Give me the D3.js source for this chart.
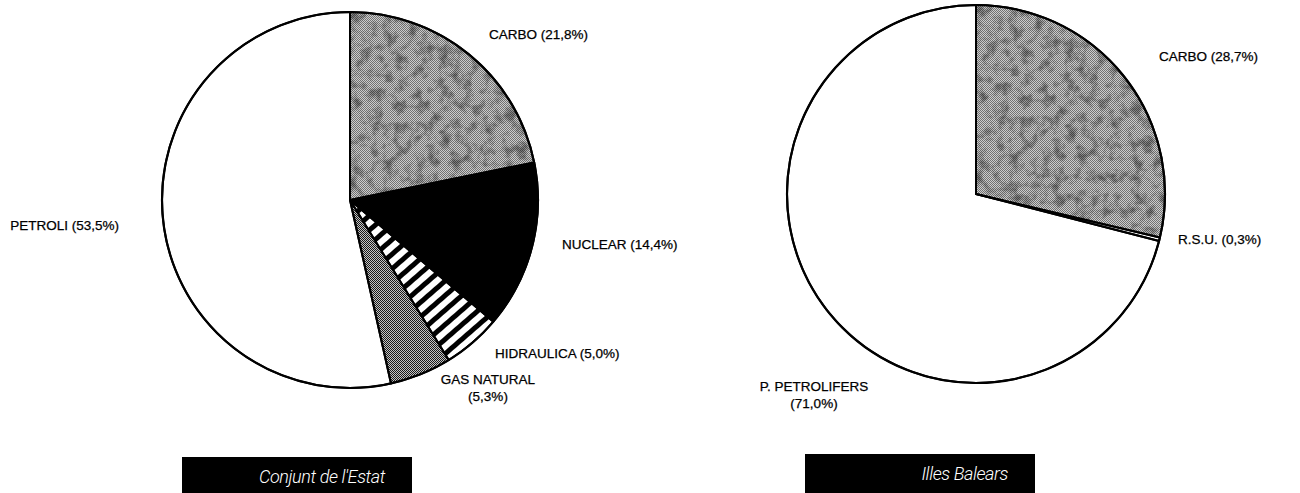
<!DOCTYPE html>
<html>
<head>
<meta charset="utf-8">
<script src="https://cdn.jsdelivr.net/npm/d3@7"></script>
<style>
  body { margin: 0; background: #fff; }
  svg { display: block; }
</style>
</head>
<body>
<div id="chart"></div>
<script>
// data
const estatLabels = ["CARBO", "NUCLEAR", "HIDRAULICA", "GAS NATURAL", "PETROLI"];
const estatValues = [21.8, 14.4, 5.0, 5.3, 53.5];
const balearsLabels = ["CARBO", "R.S.U.", "P. PETROLIFERS"];
const balearsValues = [28.7, 0.3, 71.0];
const titles = ["Conjunt de l'Estat", "Illes Balears"];

const width = 1300, height = 493;

const svg = d3.select("#chart")
    .append("svg")
        .attr("width", width)
        .attr("height", height);

const defs = svg.append("defs");

// checker dither used for the grey fills
const checker = (id, dark, light) => {
    const p = defs.append("pattern")
        .attr("id", id)
        .attr("width", 2)
        .attr("height", 2)
        .attr("patternUnits", "userSpaceOnUse");
    p.append("rect").attr("width", 2).attr("height", 2).attr("fill", light);
    p.append("rect").attr("width", 1).attr("height", 1).attr("fill", dark);
    p.append("rect").attr("x", 1).attr("y", 1).attr("width", 1).attr("height", 1).attr("fill", dark);
};
checker("carbo", "#727272", "#cdcdcd");
checker("gas", "#1a1a1a", "#c4c4c4");

// stripes for hidraulica, run across the wedge
const stripes = defs.append("pattern")
    .attr("id", "hidraulica")
    .attr("width", 11)
    .attr("height", 11)
    .attr("patternUnits", "userSpaceOnUse")
    .attr("patternTransform", "rotate(-41)");
stripes.append("rect").attr("width", 11).attr("height", 11).attr("fill", "#fff");
stripes.append("rect").attr("width", 11).attr("height", 5).attr("fill", "#000");

// mottled look on the coal slices
const mottle = defs.append("filter")
    .attr("id", "mottle")
    .attr("x", 0).attr("y", 0).attr("width", 1).attr("height", 1);
mottle.append("feTurbulence")
    .attr("type", "fractalNoise")
    .attr("baseFrequency", 0.09)
    .attr("numOctaves", 4)
    .attr("seed", 7)
    .attr("result", "noise");
mottle.append("feColorMatrix")
    .attr("in", "noise")
    .attr("type", "matrix")
    .attr("values", "0 0 0 0 0  0 0 0 0 0  0 0 0 0 0  0 0 0 -2.6 1.45")
    .attr("result", "spots");
mottle.append("feComposite")
    .attr("in", "spots")
    .attr("in2", "SourceGraphic")
    .attr("operator", "in");

const fills = {
    "CARBO": "url(#carbo)",
    "NUCLEAR": "#000",
    "HIDRAULICA": "url(#hidraulica)",
    "GAS NATURAL": "url(#gas)",
    "PETROLI": "#fff",
    "R.S.U.": "#fff",
    "P. PETROLIFERS": "#fff"
};

const fmt = v => v.toFixed(1).replace(".", ",") + "%";

// label placement, relative to each pie centre: [x, y, anchor, two lines]
const estatLabelPos = [
    [139, -161, "start", false],
    [212, 49, "start", false],
    [145, 158, "start", false],
    [138, 184, "middle", true],
    [-231, 30, "end", false]
];
const balearsLabelPos = [
    [183, -133, "start", false],
    [202, 50, "start", false],
    [-162, 197, "middle", true]
];

let clipCount = 0;

const drawPie = (labels, values, labelPos, cx, cy, radius, title, box) => {
    const data = labels.map((label, i) => ({ label, value: values[i] }));

    const pie = d3.pie()
        .sort(null)
        .value(d => d.value);

    const arc = d3.arc()
        .innerRadius(0)
        .outerRadius(radius);

    const g = svg.append("g")
        .attr("transform", `translate(${cx},${cy})`);

    const arcs = pie(data);

    g.selectAll("path.slice")
        .data(arcs)
        .enter().append("path")
        .attr("class", "slice")
        .attr("d", arc)
        .attr("fill", d => fills[d.data.label]);

    // noise overlay, clipped to the coal slice
    arcs.filter(d => d.data.label === "CARBO").forEach(d => {
        const id = "clip" + (clipCount++);
        defs.append("clipPath")
            .attr("id", id)
            .append("path")
            .attr("d", arc(d));
        g.append("g")
            .attr("clip-path", `url(#${id})`)
            .append("path")
            .attr("d", arc(d))
            .attr("fill", "#333")
            .attr("opacity", 0.42)
            .attr("filter", "url(#mottle)");
    });

    // outlines on top of the overlay
    g.selectAll("path.edge")
        .data(arcs)
        .enter().append("path")
        .attr("class", "edge")
        .attr("d", arc)
        .attr("fill", "none")
        .attr("stroke", "#000")
        .attr("stroke-width", 2)
        .attr("stroke-linejoin", "round");

    g.append("circle")
        .attr("r", radius)
        .attr("fill", "none")
        .attr("stroke", "#000")
        .attr("stroke-width", 2.2);

    const text = g.selectAll("text.label")
        .data(data)
        .enter().append("text")
        .attr("class", "label")
        .attr("x", (d, i) => labelPos[i][0])
        .attr("y", (d, i) => labelPos[i][1])
        .attr("text-anchor", (d, i) => labelPos[i][2])
        .style("font-family", "'Liberation Sans', Arial, sans-serif")
        .style("font-size", "13.5px")
        .style("fill", "#000")
        .style("stroke", "#000")
        .style("stroke-width", 0.25);

    text.each(function(d, i) {
        const t = d3.select(this);
        if (labelPos[i][3]) {
            t.append("tspan").text(d.label);
            t.append("tspan")
                .attr("x", labelPos[i][0])
                .attr("dy", 17)
                .text(`(${fmt(d.value)})`);
        } else {
            t.text(`${d.label} (${fmt(d.value)})`);
        }
    });

    // title bar underneath
    svg.append("rect")
        .attr("x", box[0])
        .attr("y", box[1])
        .attr("width", box[2])
        .attr("height", height - box[1])
        .attr("fill", "#000");

    svg.append("text")
        .attr("x", box[0] + box[2] - 27)
        .attr("y", box[1] + 26)
        .attr("text-anchor", "end")
        .style("font-family", "Roboto, 'Liberation Sans', sans-serif")
        .style("font-weight", 300)
        .style("font-style", "italic")
        .style("font-size", "18px")
        .style("letter-spacing", "-0.4px")
        .style("fill", "#fff")
        .text(title);
};

drawPie(estatLabels, estatValues, estatLabelPos, 350, 200, 188, titles[0], [182, 457, 230]);
drawPie(balearsLabels, balearsValues, balearsLabelPos, 976, 194, 189, titles[1], [805, 454, 230]);
</script>
</body>
</html>
